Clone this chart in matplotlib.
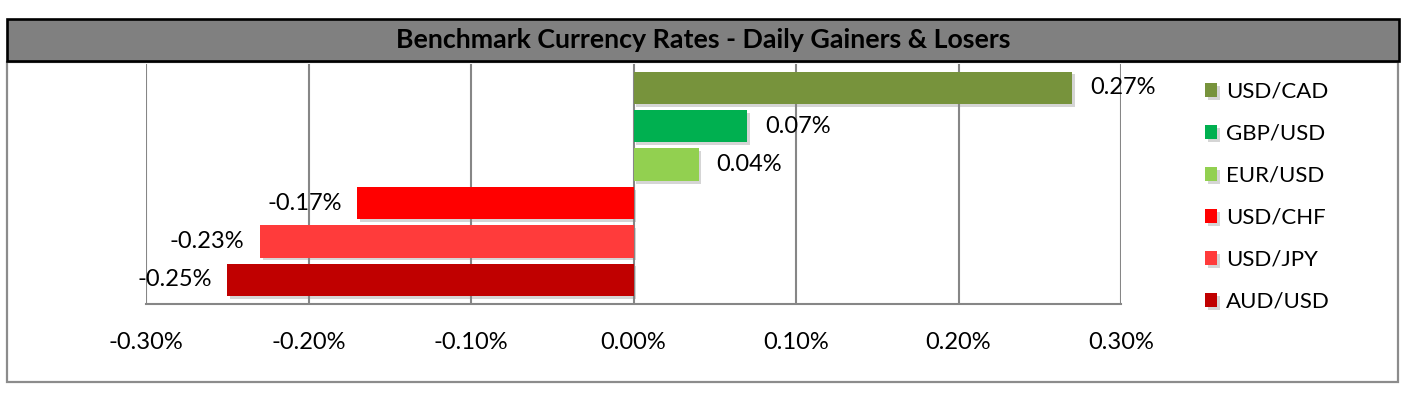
import matplotlib.pyplot as plt
import matplotlib.patheffects as pe
from matplotlib.patches import Rectangle
from matplotlib.ticker import FuncFormatter

# chart data
pairs = ["USD/CAD", "GBP/USD", "EUR/USD", "USD/CHF", "USD/JPY", "AUD/USD"]
changes = [0.27, 0.07, 0.04, -0.17, -0.23, -0.25]  # percent
bar_colors = ["#77933C", "#00B050", "#92D050", "#FF0000", "#FF3B3B", "#C00000"]
xticks = [-0.30, -0.20, -0.10, 0.00, 0.10, 0.20, 0.30]
title = "Benchmark Currency Rates - Daily Gainers & Losers"

W, H = 1418, 397
FONT = "Lato"
plt.rcParams['font.family'] = [FONT, 'DejaVu Sans']

fig = plt.figure(figsize=(W / 100, H / 100), dpi=100)

def px_box(x0, y0, x1, y1):
    # pixel box (top-left origin) -> figure fraction rect
    return [x0 / W, 1 - y1 / H, (x1 - x0) / W, (y1 - y0) / H]

# outer chart frame and title band
l, b, w, h = px_box(7, 62, 1398, 382)
fig.patches.append(Rectangle((l, b), w, h, transform=fig.transFigure,
                             facecolor="none", edgecolor="#8c8c8c", lw=1.6, zorder=-1))
l, b, w, h = px_box(7, 19, 1399, 61)
fig.patches.append(Rectangle((l, b), w, h, transform=fig.transFigure,
                             facecolor="#808080", edgecolor="black", lw=1.9, zorder=1))
fig.text((7 + 1399) / 2 / W, 1 - 40 / H, title, ha="center", va="center",
         fontsize=19.3, fontweight="bold", color="black")

ax = fig.add_axes(px_box(146, 64, 1121, 304))
ax.patch.set_alpha(0)

ypos = list(range(len(pairs)))
bars = ax.barh(ypos, changes, height=0.84, color=bar_colors, zorder=3)
shadow = [pe.SimplePatchShadow(offset=(2, -2), shadow_rgbFace="#888888", alpha=0.35), pe.Normal()]
for bar, lab in zip(bars, pairs):
    bar.set_path_effects(shadow)
    bar.set_label(lab)

for y, v in zip(ypos, changes):
    if v >= 0:
        ax.annotate(f"{v:.2f}%", (v, y), xytext=(13, 0), textcoords="offset points",
                    ha="left", va="center", fontsize=17)
    else:
        ax.annotate(f"{v:.2f}%", (v, y), xytext=(-11, 0), textcoords="offset points",
                    ha="right", va="center", fontsize=17)

ax.set_xlim(-0.30, 0.30)
ax.set_ylim(5.63, -0.62)
ax.set_xticks(xticks)
ax.xaxis.set_major_formatter(FuncFormatter(lambda v, p: f"{v:.2f}%"))
ax.set_yticks([])
ax.tick_params(axis="x", length=0, pad=20, labelsize=17)
ax.grid(axis="x", color="#868686", lw=1.5, zorder=1)
for side in ["top", "right", "left"]:
    ax.spines[side].set_visible(False)
ax.spines["bottom"].set_color("#868686")
ax.spines["bottom"].set_linewidth(1.5)

leg = fig.legend(handles=list(bars), loc="upper left",
                 bbox_to_anchor=(1185 / W, 1 - 62 / H), frameon=False,
                 fontsize=16, handlelength=0.55, handleheight=0.55,
                 handletextpad=0.4, labelspacing=0.99)

fig.savefig("out.png", dpi=100)
